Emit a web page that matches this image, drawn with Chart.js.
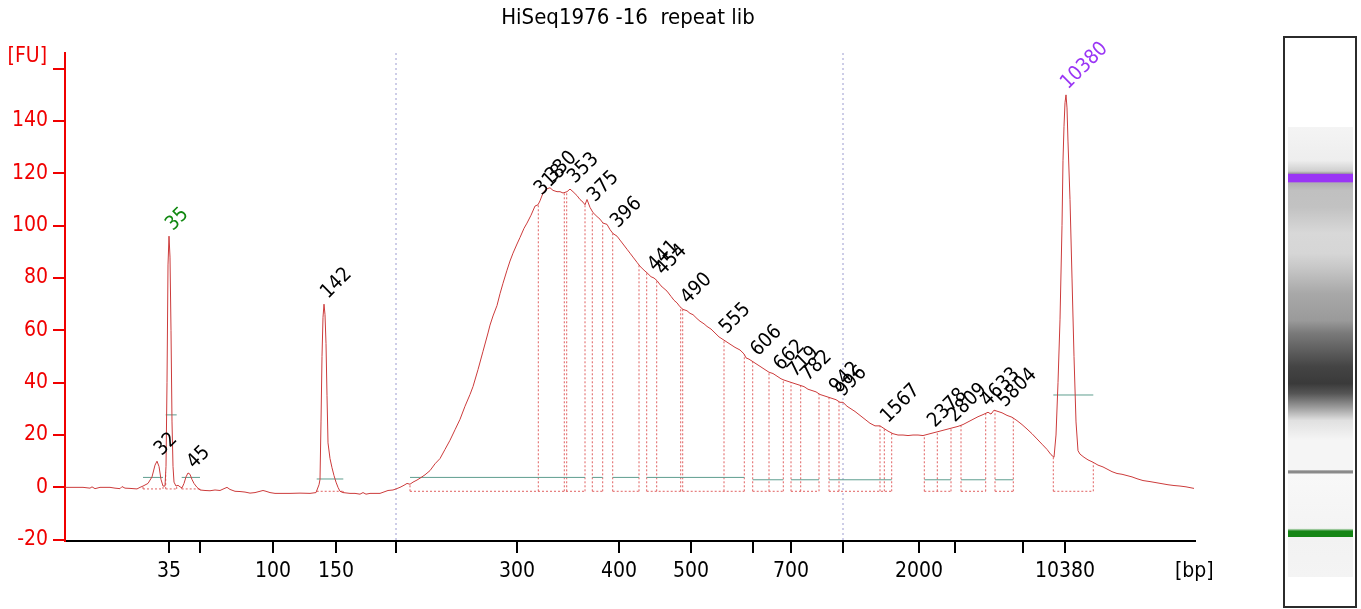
<!DOCTYPE html>
<html>
<head>
<meta charset="utf-8">
<script src="https://cdn.jsdelivr.net/npm/chart.js@4.4.1/dist/chart.umd.min.js"></script>
<style>
  html, body { margin: 0; padding: 0; background: #fff; }
  #wrap { position: relative; width: 1361px; height: 609px; overflow: hidden; }
  #chart { position: absolute; left: 0; top: 0; }
  #lane { position: absolute; left: 1283px; top: 36px; width: 74px; height: 572px;
          box-sizing: border-box; border: 2px solid #2b2b2b; background: #fff; }
  #gel { position: absolute; left: 1288px; top: 127px; width: 65px; height: 450px;
         background: linear-gradient(to bottom, #f4f4f4 0%, #eeeeee 7.4%, #cfcfcf 9.8%, #a0a0a0 10.3%,
           #9a35f5 10.5%, #9a35f5 12.2%, #b0b0b0 12.4%, #c0c0c0 14.1%, #c2c2c2 17.8%, #d8d8d8 23.6%,
           #d6d6d6 28.1%, #c8c8c8 31.1%, #a8a8a8 37%, #9a9a9a 43%, #7a7a7a 45.8%, #444 53.3%,
           #3a3a3a 57%, #555 59.2%, #999 62.2%, #e0e0e0 65.2%, #f5f5f5 69.6%, #f5f5f5 76.2%,
           #8a8a8a 76.4%, #8a8a8a 76.9%, #f8f8f8 77.1%, #f4f4f4 89.2%, #158515 89.8%, #158515 91%,
           #f2f2f2 91.2%, #f4f4f4 100%); }
</style>
</head>
<body>
<div id="wrap">
  <canvas id="chart" width="1252" height="609"></canvas>
  <div id="lane"></div>
  <div id="gel"></div>
</div>
<script>
// electropherogram trace: scan point vs fluorescence [FU]
const traceScan = [
  0, 10, 18, 25, 27, 30, 35, 45, 50, 55,
  57, 60, 65, 72, 75, 78, 83, 87, 90, 92,
  94, 96, 98, 100, 101, 102, 103, 104, 105, 106,
  107, 108, 109, 111, 113, 115, 117, 119, 121, 123,
  125, 127, 129, 132, 135, 140, 145, 150, 155, 159,
  162, 165, 170, 175, 180, 185, 190, 195, 198, 201,
  205, 210, 225, 235, 245, 251, 254, 255, 256, 257,
  258, 259, 260, 261, 262, 263, 265, 267, 269, 271,
  273, 275, 278, 285, 290, 295, 298, 301, 305, 315,
  323, 328, 331, 335, 339, 342, 345, 348, 352, 355,
  360, 365, 370, 375, 380, 385, 390, 395, 400, 405,
  408, 413, 418, 423, 425, 428, 432, 435, 438, 442,
  445, 448, 452, 455, 459, 462, 466, 470, 473, 475,
  478, 481, 485, 488, 492, 495, 498, 502, 505, 508,
  512, 515, 518, 520, 522, 525, 528, 532, 535, 538,
  542, 545, 548, 552, 555, 558, 562, 565, 568, 572,
  575, 579, 582, 586, 589, 592, 596, 599, 602, 606,
  609, 612, 615, 618, 622, 625, 628, 632, 635, 639,
  642, 646, 650, 654, 658, 662, 666, 670, 675, 679,
  681, 684, 688, 692, 696, 700, 704, 708, 712, 716,
  719, 723, 727, 731, 735, 739, 743, 747, 751, 755,
  759, 763, 767, 771, 775, 778, 782, 786, 790, 795,
  800, 805, 810, 815, 819, 823, 828, 833, 838, 843,
  848, 853, 858, 863, 868, 873, 878, 883, 888, 893,
  898, 903, 908, 913, 918, 923, 926, 929, 933, 937,
  942, 947, 952, 957, 962, 967, 972, 977, 982, 986,
  989, 991, 993, 995, 997, 998, 999, 1000, 1001, 1002,
  1003, 1005, 1007, 1009, 1011, 1013, 1015, 1019, 1023, 1028,
  1033, 1038, 1042, 1047, 1052, 1057, 1062, 1067, 1072, 1078,
  1085, 1091, 1097, 1103, 1109, 1115, 1121, 1129
];
const traceFU = [
  0, 0, 0, -0.3, 0.2, -0.5, 0, 0, -0.3, -0.5,
  0.3, -0.3, -0.4, -0.6, 0, 0.5, 1.5, 4, 8.5, 10,
  8, 3, 0.5, 0.5, 8, 40, 85, 96, 88, 60,
  25, 8, 2, 0.5, 0.8, 0.2, -0.2, 1.5, 4, 5.5,
  5, 3, 1.5, 0, -1, -1.2, -1.3, -1, -1.2, -0.5,
  0, -0.8, -1.5, -1.6, -1.8, -2.2, -2, -1.5, -1.2, -1.5,
  -2, -2.3, -2.3, -2.2, -2.3, -2, 1, 3, 25, 50,
  65, 70, 66, 55, 35, 17, 11, 7.5, 4.5, 2,
  0, -1.5, -2, -2.3, -2.3, -2.6, -2, -2.6, -2.3, -2.3,
  -1.2, -1, -0.6, 0, 0.8, 1.5, 1.2, 2, 2.8, 3.5,
  4.8, 6.4, 9, 11, 14.5, 18, 22, 26, 31, 35.5,
  38.5, 45, 52, 59, 62, 65.5, 69.5, 74, 78, 83,
  86.5, 89.5, 93, 95.5, 99, 101, 104, 107.5, 108, 109.5,
  112.5, 114, 114.5, 113.5, 113, 113, 112.5, 113, 114, 113,
  111.5, 110, 109, 108, 110, 107, 105, 103.5, 102.5, 101,
  100.5, 98.5, 97, 96, 94.5, 93, 91, 89.5, 88, 86,
  84.5, 83, 82, 80.5, 80, 79, 77, 76, 75, 73,
  71.5, 70.5, 69, 68, 67.5, 66.5, 66, 64.5, 63.5, 62.5,
  61.5, 60.5, 59, 57.5, 56.5, 55.5, 54.5, 53.5, 52.5, 51,
  49.5, 49, 48, 47, 46, 45, 44, 43.5, 42.5, 41.5,
  41, 40.5, 40, 39.5, 39, 38.5, 37.5, 37, 36.5, 35.5,
  35, 34.5, 34, 33.5, 32.5, 32.5, 31, 30, 29, 27.5,
  26, 24.5, 23.5, 23.5, 22.5, 21.5, 20.5, 20, 20, 19.8,
  20, 20, 19.8, 20.3, 20.8, 21.3, 21.8, 22.3, 22.8, 23.3,
  24, 25, 26, 27, 27.8, 28.7, 28, 29.5, 29, 28.5,
  27.5, 26.8, 25.5, 24, 22.3, 20.5, 18.5, 16.5, 14.5, 12.5,
  11.5, 20, 40, 64, 100, 125, 138, 147, 150, 145,
  132, 110, 80, 50, 25, 14, 12.7, 11.5, 10.5, 9.6,
  8.5, 7.8, 7, 6, 5.3, 5, 4.5, 4, 3.3, 2.6,
  2.2, 1.8, 1.4, 1, 0.7, 0.5, 0.2, -0.4
];

// ladder ticks on the size axis (scan position and label)
const ladderScan  = [104, 135, 208, 271, 331, 452, 554, 626, 688, 726, 778, 854, 890, 958, 1000];
const ladderLabel = ['35', '', '100', '150', '', '300', '400', '500', '', '700', '', '2000', '', '', '10380'];
const fuTicks = [-20, 0, 20, 40, 60, 80, 100, 120, 140, 160];

// called peaks: size label and scan position
const peakSize = ['32', '35', '45', '142', '318', '330', '353', '375', '396', '441', '454', '490', '555',
                  '606', '662', '719', '782', '942', '996', '1567', '2378', '2809', '4633', '5804', '10380'];
const peakScan = [93.7, 105, 126.3, 260, 473.7, 485, 507, 527, 550, 587, 595, 620, 658.7,
                  690, 713, 727, 740, 768.7, 775, 820, 867, 887, 920, 937, 1000];
const lowerMarker = '35';
const upperMarker = '10380';

// peak windows (start/end scan), their baseline and the teal level line
const windowStart = [78, 100.7, 116.7, 251.7, 345, 527.3, 547.7, 581.7, 687.7, 726, 764, 859.3, 896, 930, 988.3];
const windowEnd   = [98, 111.7, 135, 278.3, 520, 537.7, 574, 679.3, 718.3, 754, 826.7, 886, 920.7, 948.3, 1028.3];
const windowBase  = [-0.6, -0.6, -0.6, -1.5, -1.5, -1.5, -1.5, -1.5, -1.5, -1.5, -1.5, -1.5, -1.5, -1.5, -1.5];
const windowLevel = [3.8, 27.7, 3.8, 3.2, 3.8, 3.8, 3.8, 3.8, 2.9, 2.9, 2.9, 2.9, 2.9, 2.9, 35.3];
const peakSplits  = [473.3, 499.3, 501.7, 591.7, 615.7, 617.7, 659, 704, 735.7, 774, 815, 819.3, 872.3];

// region of interest borders
const regionBounds = [331, 778];

const FONT = '"DejaVu Sans Condensed", "Liberation Sans", sans-serif';
const Y_MIN = -20.5, Y_MAX = 166;

let curveAt = (s) => {
    for (let i = 1; i < traceScan.length; i++) {
        if (traceScan[i] >= s) {
            let a = traceScan[i - 1], b = traceScan[i];
            let t = (s - a) / (b - a);
            return traceFU[i - 1] + t * (traceFU[i] - traceFU[i - 1]);
        }
    }
    return traceFU[traceFU.length - 1];
};

let tracePoints = traceScan.map((s, i) => ({x: s, y: traceFU[i]}));

let boxPoints = [];
windowStart.forEach((s, i) => {
    let e = windowEnd[i], base = windowBase[i];
    boxPoints.push({x: s, y: base}, {x: e, y: base}, {x: e, y: null});
    [s, e].forEach(b => boxPoints.push({x: b, y: base}, {x: b, y: curveAt(b)}, {x: b, y: null}));
});
peakSplits.forEach(b => boxPoints.push({x: b, y: -1.5}, {x: b, y: curveAt(b)}, {x: b, y: null}));

let levelPoints = [];
windowStart.forEach((s, i) => {
    levelPoints.push({x: s, y: windowLevel[i]}, {x: windowEnd[i], y: windowLevel[i]}, {x: windowEnd[i], y: null});
});

let regionPoints = [];
regionBounds.forEach(b => regionPoints.push({x: b, y: Y_MAX}, {x: b, y: Y_MIN}, {x: b, y: null}));

let overlay = {
    id: 'overlay',
    afterDatasetsDraw(chart) {
        let {ctx, scales} = chart;
        let xs = scales.x, ys = scales.y;
        ctx.save();

        ctx.font = '22px ' + FONT;
        ctx.fillStyle = '#000';
        ctx.textAlign = 'center';
        ctx.textBaseline = 'middle';
        ctx.fillText('HiSeq1976 -16  repeat lib', 628, 18);

        ctx.font = '21px ' + FONT;
        ctx.fillStyle = '#f00000';
        ctx.textAlign = 'right';
        ctx.fillText('[FU]', 47, 57);

        ctx.fillStyle = '#000';
        ctx.textAlign = 'left';
        ctx.fillText('[bp]', 1175, 572);

        ctx.font = '20px ' + FONT;
        ctx.textBaseline = 'alphabetic';
        peakSize.forEach((label, i) => {
            let s = peakScan[i];
            let top = curveAt(s);
            traceScan.forEach((v, j) => {
                if (Math.abs(v - s) <= 3) top = Math.max(top, traceFU[j]);
            });
            let px = xs.getPixelForValue(s) + 3;
            let py = ys.getPixelForValue(top) - 5;
            ctx.save();
            ctx.translate(px, py);
            ctx.rotate(-Math.PI / 4);
            ctx.fillStyle = label === lowerMarker ? '#118811' : (label === upperMarker ? '#9a35f5' : '#000');
            ctx.fillText(label, 0, 0);
            ctx.restore();
        });
        ctx.restore();
    }
};

new Chart(document.getElementById('chart'), {
    type: 'line',
    data: {
        datasets: [
            {data: tracePoints, borderColor: '#cc3b3b', borderWidth: 1},
            {data: levelPoints, borderColor: '#5f9e8f', borderWidth: 1},
            {data: boxPoints, borderColor: '#e06060', borderWidth: 1, borderDash: [2, 2]},
            {data: regionPoints, borderColor: '#9b9bd0', borderWidth: 1, borderDash: [2, 3]}
        ]
    },
    options: {
        responsive: false,
        animation: false,
        events: [],
        layout: {padding: {top: 53, right: 57, left: 0, bottom: 0}},
        elements: {
            point: {radius: 0},
            line: {tension: 0, fill: false}
        },
        datasets: {line: {spanGaps: false}},
        plugins: {
            legend: {display: false},
            tooltip: {enabled: false},
            title: {display: false}
        },
        scales: {
            x: {
                type: 'linear',
                min: 0,
                max: 1130,
                afterBuildTicks: axis => { axis.ticks = ladderScan.map(v => ({value: v})); },
                afterFit: axis => { axis.height = 68; },
                ticks: {
                    callback: (v, i) => ladderLabel[i],
                    autoSkip: false,
                    maxRotation: 0,
                    color: '#000',
                    padding: 6,
                    font: {family: FONT, size: 21}
                },
                grid: {drawOnChartArea: false, tickLength: 12, color: '#000', lineWidth: 2},
                border: {color: '#000', width: 2}
            },
            y: {
                min: Y_MIN,
                max: Y_MAX,
                afterBuildTicks: axis => { axis.ticks = fuTicks.map(v => ({value: v})); },
                afterFit: axis => { axis.width = 65; },
                ticks: {
                    callback: v => (v === 160 ? '' : v),
                    autoSkip: false,
                    color: '#f00000',
                    padding: 5,
                    font: {family: FONT, size: 21}
                },
                grid: {drawOnChartArea: false, tickLength: 12, color: '#f00000', lineWidth: 2},
                border: {color: '#f00000', width: 2}
            }
        }
    },
    plugins: [overlay]
});
</script>
</body>
</html>
